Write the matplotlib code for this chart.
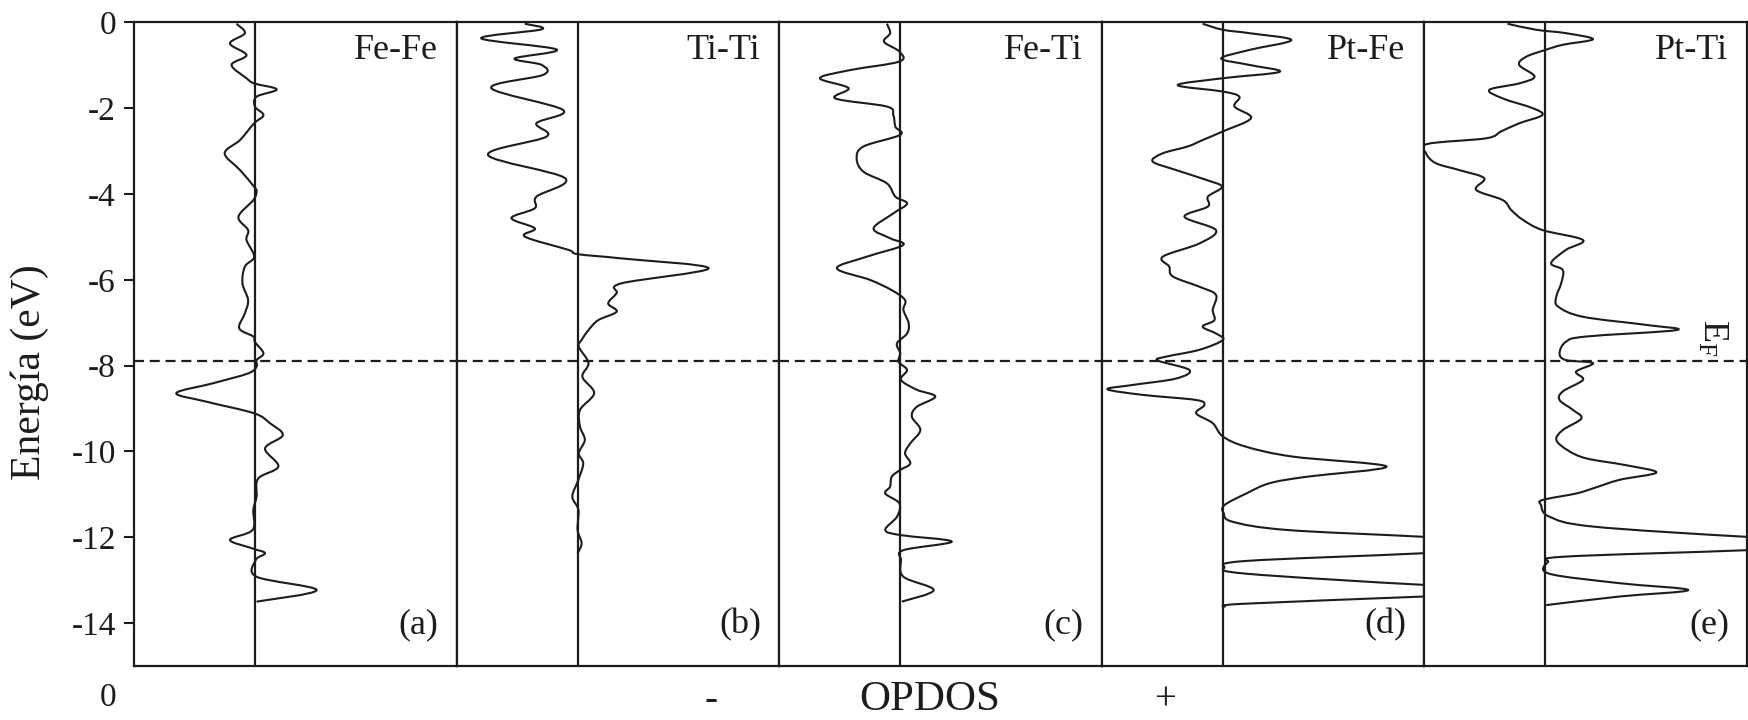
import matplotlib
matplotlib.use("Agg")
import matplotlib.pyplot as plt
from matplotlib.path import Path
from matplotlib.patches import PathPatch
import numpy as np

plt.rcParams["font.family"] = ["Liberation Serif", "DejaVu Serif"]
plt.rcParams["mathtext.fontset"] = "custom"
plt.rcParams["mathtext.rm"] = "Liberation Serif"

# Overlap-population DOS (arbitrary units) versus energy (eV) for each bond pair
pairs = ["Fe-Fe", "Ti-Ti", "Fe-Ti", "Pt-Fe", "Pt-Ti"]
letters = ["(a)", "(b)", "(c)", "(d)", "(e)"]

fefe_E = [-0.03, -0.25, -0.49, -0.76, -0.99, -1.30, -1.42, -1.56, -1.73, -1.96, -2.16, -2.35,
          -2.74, -3.05, -3.44, -3.83, -3.94, -4.14, -4.53, -4.84, -5.07, -5.46, -5.69, -6.08,
          -6.47, -6.78, -7.13, -7.32, -7.45, -7.71, -7.87, -8.02, -8.18, -8.41, -8.64, -8.84,
          -9.11, -9.34, -9.62, -9.93, -10.35, -10.63, -11.05, -11.36, -11.83, -12.06, -12.26,
          -12.37, -12.53, -12.92, -13.23, -13.50]
fefe_op = [-0.46, -0.25, -0.62, -0.21, -0.58, -0.21, -0.02, 0.54, 0.04, 0.00, 0.21, -0.02,
           -0.37, -0.75, -0.37, -0.02, 0.04, -0.04, -0.41, -0.17, -0.21, -0.02, -0.25, -0.31,
           -0.17, -0.25, -0.39, -0.04, 0.00, 0.21, 0.04, 0.04, -0.17, -1.04, -1.95, -1.20,
           -0.02, 0.37, 0.69, 0.25, 0.58, 0.08, 0.04, -0.04, -0.06, -0.62, -0.06,
           0.25, 0.02, 0.04, 1.53, 0.04]

titi_E = [-0.03, -0.16, -0.37, -0.63, -0.84, -0.99, -1.22, -1.53, -2.04, -2.35, -2.66, -3.09,
          -3.63, -4.06, -4.33, -4.56, -4.80, -4.99, -5.30, -5.40, -5.50, -5.73, -6.08, -6.31,
          -6.55, -6.74, -6.94, -7.17, -7.40, -7.56, -7.94, -8.26, -8.64, -9.03, -9.42, -9.73,
          -10.04, -10.28, -10.66, -11.05, -11.36, -11.83, -12.14, -12.37]
titi_op = [-1.31, -0.89, -2.39, -0.52, -1.56, -0.89, -0.85, -2.14, -0.36, -1.02, -0.77, -2.22,
           -0.31, -1.02, -1.06, -1.64, -1.06, -1.31, -0.23, 0.00, 1.09, 3.25, 1.09, 0.97,
           0.76, 0.97, 0.51, 0.27, 0.10, 0.03, 0.27, 0.12, 0.41, 0.06, 0.06, 0.18,
           0.03, 0.14, 0.02, -0.13, 0.02, 0.00, 0.10, 0.00]

feti_E = [-0.03, -0.25, -0.45, -0.68, -0.91, -1.11, -1.30, -1.53, -1.77, -1.96, -2.16, -2.43,
          -2.62, -2.89, -3.17, -3.48, -3.75, -4.06, -4.22, -4.45, -4.80, -5.03, -5.19, -5.46,
          -5.73, -6.00, -6.24, -6.47, -6.70, -7.01, -7.25, -7.48, -7.71, -7.91, -8.10, -8.33,
          -8.56, -8.72, -8.96, -9.19, -9.50, -9.81, -10.04, -10.28, -10.43, -10.59, -10.82,
          -10.98, -11.21, -11.52, -11.83, -11.95, -12.10, -12.30, -12.53, -12.92, -13.23, -13.50]
feti_op = [-0.33, -0.25, -0.40, -0.02, -0.02, -1.24, -1.99, -1.28, -1.61, -0.33, -0.17, -0.12,
           0.00, -0.91, -1.08, -0.91, -0.33, -0.12, 0.17, -0.17, -0.66, -0.25, 0.07, -0.83,
           -1.57, -0.75, -0.21, 0.12, 0.08, 0.21, 0.17, -0.08, 0.00, -0.04, 0.17, 0.02,
           0.41, 0.87, 0.41, 0.29, 0.50, 0.25, 0.12, 0.25, 0.00, -0.21, -0.25,
           -0.37, -0.02, -0.08, -0.37, 0.02, 1.28, 0.08, 0.02, 0.08, 0.83, 0.04]

ptfe_E = [-0.03, -0.17, -0.25, -0.41, -0.64, -0.84, -0.99, -1.15, -1.30, -1.46, -1.61, -1.73,
          -1.96, -2.23, -2.54, -2.74, -2.89, -3.05, -3.24, -3.44, -3.67, -3.83, -4.06, -4.29,
          -4.53, -4.84, -5.15, -5.46, -5.69, -5.92, -6.16, -6.35, -6.70, -6.94, -7.09, -7.25,
          -7.40, -7.63, -7.79, -7.88, -8.10, -8.30, -8.45, -8.55, -8.68, -8.80, -8.92, -9.11,
          -9.34, -9.65, -9.89, -10.12, -10.35, -10.59, -10.74, -10.98, -11.25, -11.44, -11.64,
          -11.83, -11.99, -12.18, -12.37, -12.55, -12.70, -12.85, -13.11, -13.24, -13.38,
          -13.55, -13.62]
ptfe_op = [-0.50, 0.00, 0.66, 1.70, 0.66, -0.04, 0.66, 1.41, 0.00, -1.12, 0.00, 0.41,
           0.29, 0.70, 0.00, -0.50, -0.87, -1.49, -1.74, -1.16, -0.41, -0.02, -0.37, -0.37,
           -0.95, -0.17, -0.58, -1.49, -1.33, -1.24, -0.58, -0.17, -0.25, -0.21, -0.50, -0.17,
           0.00, -0.58, -1.41, -1.61, -0.83, -1.16, -2.24, -2.86, -1.99, -0.66, -0.46, -0.66,
           -0.25, 0.00, 0.58, 1.74, 4.06, 2.07, 1.16, 0.58, 0.04, 0.02, 0.25,
           1.60, 5.00, 8.50, 5.00, 0.60, 0.04, 0.60, 5.00, 8.50, 5.00,
           0.50, 0.04]

ptti_E = [-0.03, -0.17, -0.25, -0.39, -0.52, -0.64, -0.80, -0.99, -1.26, -1.42, -1.57, -1.77,
          -2.00, -2.16, -2.35, -2.54, -2.70, -2.83, -3.05, -3.28, -3.44, -3.63, -3.90, -4.14,
          -4.37, -4.60, -4.84, -5.07, -5.30, -5.61, -5.77, -6.08, -6.39, -6.62, -6.86, -7.05,
          -7.17, -7.32, -7.44, -7.71, -7.87, -7.94, -8.14, -8.33, -8.60, -8.80, -9.03, -9.23,
          -9.50, -9.73, -9.97, -10.16, -10.32, -10.49, -10.66, -10.86, -10.98, -11.13, -11.25,
          -11.52, -11.75, -11.99, -12.14, -12.30, -12.45, -12.58, -12.85, -13.07, -13.23,
          -13.38, -13.58]
ptti_op = [-0.94, -0.23, 0.51, 1.18, 0.43, 0.00, -0.48, -0.65, -0.27, -0.65, -1.39, -1.06,
           -0.31, -0.08, -0.65, -1.10, -1.47, -2.92, -2.96, -2.72, -2.14, -1.52, -1.72, -1.06,
           -0.85, -0.56, -0.07, 0.93, 0.51, 0.14, 0.43, 0.39, 0.27, 0.31, 0.93, 2.50,
           3.25, 1.01, 0.51, 0.35, 0.51, 1.18, 0.76, 0.93, 0.43, 0.35, 0.68, 0.89,
           0.43, 0.27, 0.55, 1.01, 2.00, 2.75, 1.84, 1.18, 0.76, -0.07, -0.11,
           0.10, 1.18, 5.00, 8.50, 5.00, 0.50, 0.06, 0.10, 1.84, 3.54,
           1.84, 0.02]

energies = [fefe_E, titi_E, feti_E, ptfe_E, ptti_E]
opdos = [fefe_op, titi_op, feti_op, ptfe_op, ptti_op]

fermi_level = -7.9
yticks = [0, -2, -4, -6, -8, -10, -12, -14]

ink = "#1c1c1c"


def smooth_path(x, y):
    """Cubic Bezier path passing through every (x, y) sample (Catmull-Rom tangents)."""
    p = np.column_stack([x, y]).astype(float)
    ext = np.vstack([p[0], p, p[-1]])
    verts = [p[0]]
    codes = [Path.MOVETO]
    for i in range(len(p) - 1):
        p0, p1, p2, p3 = ext[i], ext[i + 1], ext[i + 2], ext[i + 3]
        verts += [p1 + (p2 - p0) / 6.0, p2 - (p3 - p1) / 6.0, p2]
        codes += [Path.CURVE4] * 3
    return Path(verts, codes)


fig = plt.figure(figsize=(17.49, 7.2), dpi=100)
fig.subplots_adjust(left=0.0766, right=0.9989, bottom=0.075, top=0.9688, wspace=0)
axes = fig.subplots(1, 5, sharey=True)

for i, ax in enumerate(axes):
    ax.add_patch(PathPatch(smooth_path(opdos[i], energies[i]), fill=False,
                           edgecolor=ink, lw=1.5, joinstyle="round"))
    ax.axvline(0, color=ink, lw=1.6)
    ax.axhline(fermi_level, color=ink, lw=1.6, ls=(0, (4.5, 2.6)))
    ax.set_xlim(-3, 5)
    ax.set_ylim(-15, 0)
    ax.set_xticks([])
    for s in ax.spines.values():
        s.set_linewidth(1.6)
        s.set_color(ink)
    ax.text(0.941, 0.957, pairs[i], transform=ax.transAxes, ha="right", va="center",
            fontsize=26, color=ink)
    ax.text(0.944, 0.064, letters[i], transform=ax.transAxes, ha="right", va="center",
            fontsize=26, color=ink)
    if i == 0:
        ax.set_yticks(yticks)
        ax.set_yticklabels([str(t) for t in yticks])
        ax.tick_params(axis="y", direction="out", length=7, width=1.5, pad=6,
                       labelsize=24, colors=ink)
    else:
        ax.tick_params(axis="y", left=False, labelleft=False)

axes[4].text(4.12, -7.35, r"$\mathregular{E_F}$", rotation=270, ha="center", va="center",
             fontsize=26, color=ink)

fig.text(30 / 1749, 1 - 372 / 720, "Energía (eV)", rotation=90, ha="center", va="center",
         fontsize=30, color=ink)
fig.text(108 / 1749, 1 - 698 / 720, "0", ha="center", va="center", fontsize=24, color=ink)
fig.text(711 / 1749, 1 - 700 / 720, "-", ha="center", va="center", fontsize=28, color=ink)
fig.text(930 / 1749, 1 - 700 / 720, "OPDOS", ha="center", va="center", fontsize=31, color=ink)
fig.text(1165 / 1749, 1 - 700 / 720, "+", ha="center", va="center", fontsize=28, color=ink)

fig.savefig("out.png", dpi=100, facecolor="white")
